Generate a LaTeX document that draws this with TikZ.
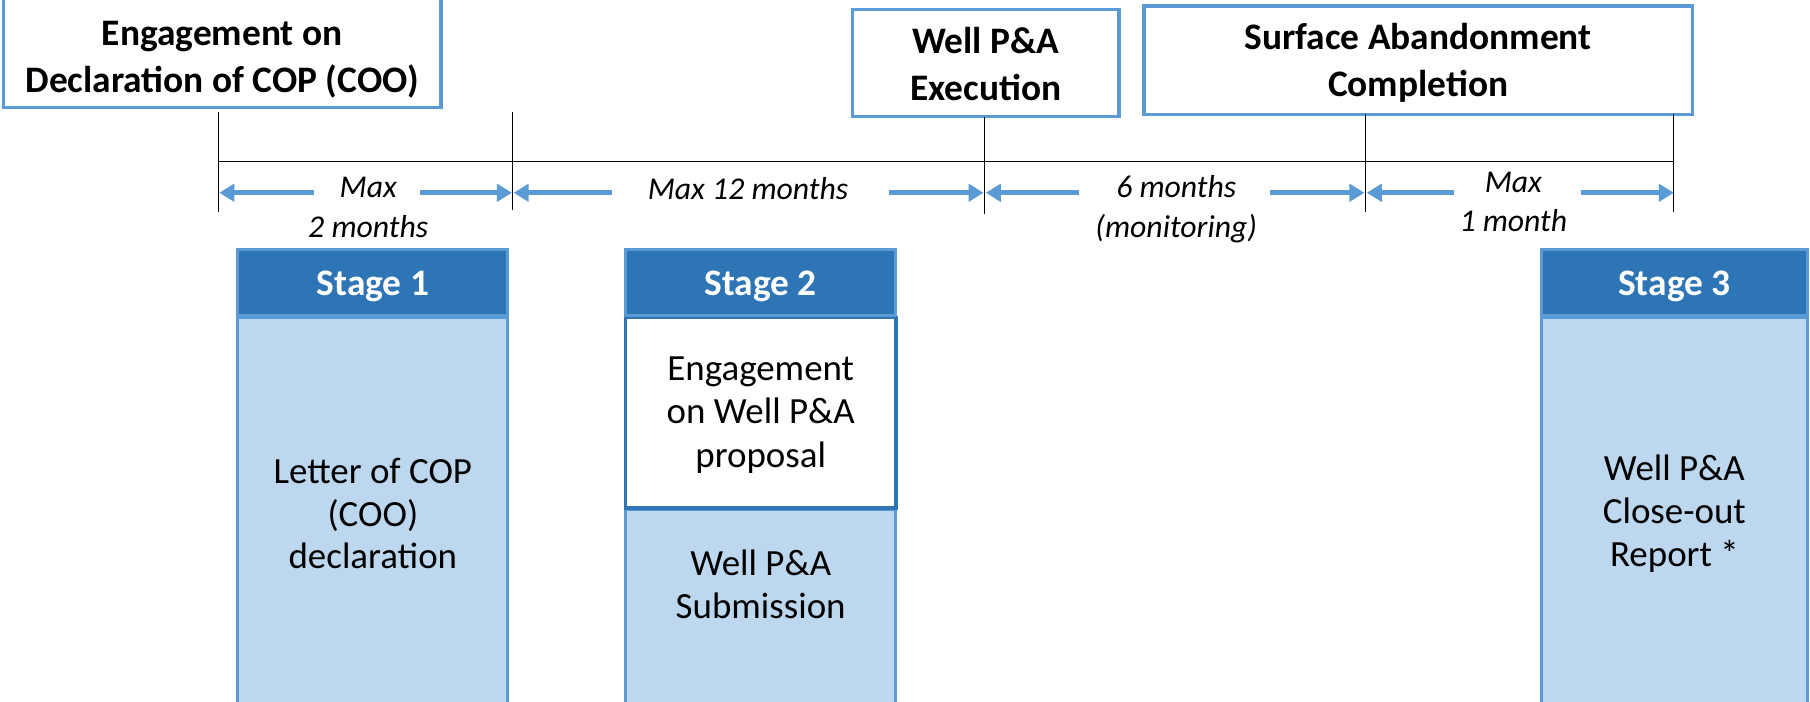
\documentclass[tikz,border=0pt]{standalone}
\usepackage{fontspec}
\setmainfont{Carlito}
\usetikzlibrary{arrows.meta}
\definecolor{lblue}{HTML}{5B9BD5}
\definecolor{dblue}{HTML}{2E75B6}
\definecolor{pblue}{HTML}{BDD7EE}
\tikzset{
 topbox/.style={draw=lblue, line width=3pt, fill=white, inner sep=0pt},
 toptext/.style={align=center, inner sep=0pt, font=\bfseries\fontsize{32.4}{40.5}\selectfont},
 hdr/.style={draw=lblue, line width=2.5pt, fill=dblue, inner sep=0pt,
   minimum width=234pt, minimum height=57pt},
 hdrtext/.style={text=white, inner sep=0pt, font=\bfseries\fontsize{32.4}{38}\selectfont},
 bodybox/.style={draw=lblue, line width=2.5pt, fill=pblue, minimum width=234pt, inner sep=0pt,
   align=center, font=\fontsize{32}{37}\selectfont},
 whitebox/.style={draw=dblue, line width=3pt, fill=white, minimum width=234pt, inner sep=0pt},
 bodytext/.style={align=center, inner sep=0pt, font=\fontsize{32}{37.5}\selectfont},
 tickline/.style={draw=black, line width=1pt},
 arr/.style={draw=lblue, line width=4.5pt, -{Triangle[length=13pt,width=15pt]}},
 lbl/.style={font=\itshape\fontsize{27.5}{34.5}\selectfont, align=center, inner sep=0pt},
}
\begin{document}
\begin{tikzpicture}[x=1pt,y=-1pt]
\useasboundingbox (0,0) rectangle (1568,608);
\clip (0,0) rectangle (1568,608);

% top boxes
\node[topbox, minimum width=379pt, minimum height=98pt] (A) at (192.5,44) {};
\node[toptext] (At) at (192.5,51.5) {Engagement on\\Declaration of COP (COO)};
\node[topbox, minimum width=231pt, minimum height=93pt] (B) at (854,54.5) {};
\node[toptext] (Bt) at (854,55.5) {Well P\&A\\Execution};
\node[topbox, minimum width=475pt, minimum height=94pt] (C) at (1228.5,52) {};
\node[toptext] (Ct) at (1228.5,54.5) {Surface Abandonment\\Completion};

% timeline coordinates
\coordinate (t0top) at (189,97);  \coordinate (t0bot) at (189,184);
\coordinate (t1top) at (444,97);  \coordinate (t1bot) at (444,182);
\coordinate (t2top) at (853,101); \coordinate (t2bot) at (853,185);
\coordinate (t3top) at (1183,99); \coordinate (t3bot) at (1183,184);
\coordinate (t4top) at (1450,99); \coordinate (t4bot) at (1450,184);
\coordinate (l0) at (189,140); \coordinate (l4) at (1450,140);

\draw[tickline] (l0) -- (l4);
\draw[tickline] (t0top) -- (t0bot);
\draw[tickline] (t1top) -- (t1bot);
\draw[tickline] (t2top) -- (t2bot);
\draw[tickline] (t3top) -- (t3bot);
\draw[tickline] (t4top) -- (t4bot);

% duration arrows
\coordinate (a1l) at (272,167); \coordinate (a1lh) at (190,167);
\coordinate (a1r) at (364,167); \coordinate (a1rh) at (443.5,167);
\coordinate (a2l) at (530,167); \coordinate (a2lh) at (445,167);
\coordinate (a2r) at (770,167); \coordinate (a2rh) at (852,167);
\coordinate (a3l) at (935,167); \coordinate (a3lh) at (854,167);
\coordinate (a3r) at (1100,167); \coordinate (a3rh) at (1182,167);
\coordinate (a4l) at (1260,167); \coordinate (a4lh) at (1184,167);
\coordinate (a4r) at (1370,167); \coordinate (a4rh) at (1450,167);
\draw[arr] (a1l) -- (a1lh); \draw[arr] (a1r) -- (a1rh);
\draw[arr] (a2l) -- (a2lh); \draw[arr] (a2r) -- (a2rh);
\draw[arr] (a3l) -- (a3lh); \draw[arr] (a3r) -- (a3rh);
\draw[arr] (a4l) -- (a4lh); \draw[arr] (a4r) -- (a4rh);

\node[lbl] (d1) at (319,180) {Max\\2 months};
\node[lbl] (d2) at (648,163) {Max 12 months};
\node[lbl] (d3) at (1019,181) {6 months\\(monitoring)};
\node[lbl] (d4) at (1311,175) {Max\\1 month};

% stage 1
\node[bodybox, minimum height=340pt] (S1b) at (323,445) {Letter of COP\\(COO)\\declaration};
\node[hdr] (S1h) at (323,244.5) {};
\node[hdrtext] (S1t) at (323,248) {Stage 1};

% stage 2
\node[bodybox, minimum height=174pt] (S2b) at (659,528) {};
\node[bodytext] (S2t) at (659,506) {Well P\&A\\Submission};
\node[whitebox, minimum height=165pt] (S2w) at (659,357.5) {};
\node[bodytext] (S2wt) at (659,359.5) {Engagement\\on Well P\&A\\proposal};
\node[hdr] (S2h) at (659,244.5) {};
\node[hdrtext] (S2ht) at (659,248) {Stage 2};

% stage 3
\node[bodybox, minimum width=231pt, minimum height=340pt] (S3b) at (1450.5,445) {Well P\&A\\Close-out\\Report *};
\node[hdr, minimum width=231pt] (S3h) at (1450.5,244.5) {};
\node[hdrtext] (S3t) at (1450.5,248) {Stage 3};
\end{tikzpicture}
\end{document}
